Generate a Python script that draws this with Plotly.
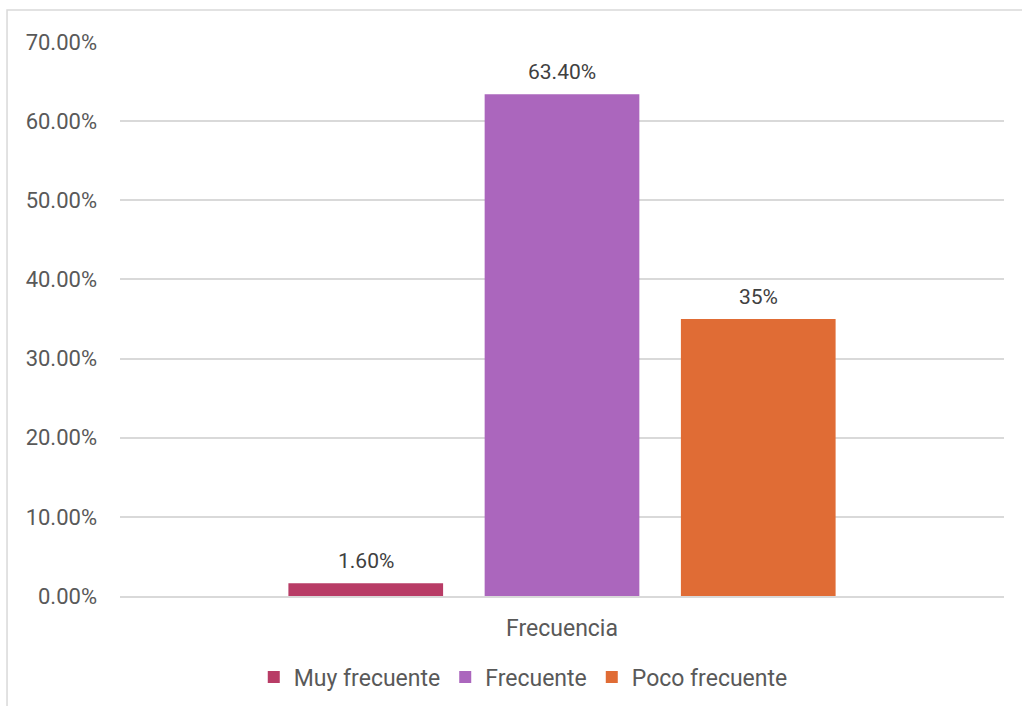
import plotly.graph_objects as go

categories = ["Frecuencia"]
series_names = ["Muy frecuente", "Frecuente", "Poco frecuente"]
series_values = [1.6, 63.4, 35.0]
value_labels = ["1.60%", "63.40%", "35%"]
tick_values = [0, 10, 20, 30, 40, 50, 60, 70]
tick_labels = ["0.00%", "10.00%", "20.00%", "30.00%", "40.00%", "50.00%", "60.00%", "70.00%"]

colors = ["#B83C66", "#AB66BD", "#E06C35"]
FONT = "Roboto"
TEXT_COLOR = "#595959"

# clustered layout inside the single category slot [-0.5, 0.5]
BAR_W = 0.175
SLOT = 0.222
n = len(series_names)
centers = [(i - (n - 1) / 2) * SLOT for i in range(n)]

fig = go.Figure()
for name, val, lab, col, cx in zip(series_names, series_values, value_labels, colors, centers):
    fig.add_trace(go.Bar(
        x=[0], y=[val], name=name,
        width=BAR_W, offset=cx - BAR_W / 2,
        marker=dict(color=col, line=dict(width=0)),
        hoverinfo="name+y",
    ))
    fig.add_annotation(
        x=cx, y=val, xref="x", yref="y", text=lab, showarrow=False,
        yanchor="bottom", yshift=8,
        font=dict(family=FONT, size=21, color="#404040"),
    )

fig.update_layout(
    width=1022, height=706,
    margin=dict(l=120, r=18, t=42, b=110),
    paper_bgcolor="white", plot_bgcolor="white",
    barmode="overlay",
    font=dict(family=FONT, size=21, color=TEXT_COLOR),
    showlegend=True,
    legend=dict(orientation="h", xref="container", yref="container",
                x=0.512, xanchor="center", y=0.041, yanchor="middle",
                font=dict(family=FONT, size=23, color=TEXT_COLOR),
                itemwidth=30, traceorder="normal", tracegroupgap=0),
    xaxis=dict(range=[-0.5, 0.5], tickvals=[0], ticktext=categories,
               showgrid=False, zeroline=False, showline=True, linecolor="#D9D9D9", linewidth=2,
               ticks="", ticklabelstandoff=10, automargin=False,
               tickfont=dict(family=FONT, size=23, color=TEXT_COLOR)),
    yaxis=dict(range=[0, 70], tickvals=tick_values, ticktext=tick_labels,
               showgrid=True, gridcolor="#D9D9D9", gridwidth=1.5,
               zeroline=False, showline=False, ticks="", ticklabelstandoff=22, automargin=False,
               tickfont=dict(family=FONT, size=22, color=TEXT_COLOR)),
    shapes=[dict(type="rect", xref="paper", yref="paper",
                 x0=-0.1278, x1=1.1, y0=-0.4, y1=1.0578,
                 line=dict(color="#D9D9D9", width=1.5), fillcolor="rgba(0,0,0,0)",
                 layer="below")],
)

fig.write_html("out.html")
